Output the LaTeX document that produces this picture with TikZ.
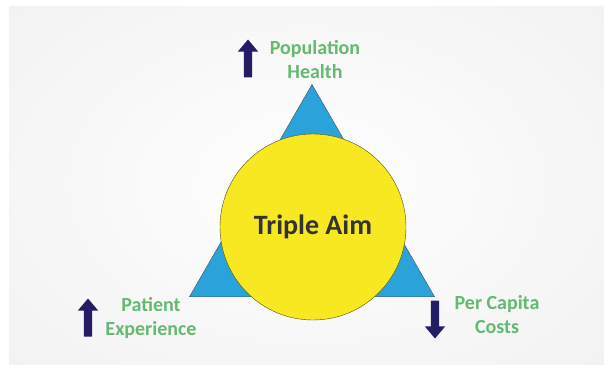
\documentclass[tikz,border=0pt]{standalone}
\usepackage{fontspec}
\setmainfont{Carlito}
\usetikzlibrary{shapes.geometric,shapes.arrows}
\definecolor{aimyellow}{RGB}{248,232,34}
\definecolor{aimblue}{RGB}{41,163,218}
\definecolor{aimgreen}{RGB}{100,186,112}
\definecolor{aimnavy}{RGB}{36,28,100}
\tikzset{%
  label/.style  = {align=center, text=aimgreen,%
                   font=\bfseries\fontsize{20}{24}\selectfont},%
  trend/.style  = {single arrow, fill=aimnavy, draw=none,%
                   minimum height=38pt, inner xsep=0pt, inner ysep=4pt,%
                   single arrow head extend=6pt, single arrow tip angle=80},%
  corner/.style = {regular polygon, regular polygon sides=3,%
                   minimum size=283pt, inner sep=0pt,%
                   fill=aimblue, draw=black!70, thin},%
  hub/.style    = {circle, minimum size=186pt, inner sep=0pt,%
                   fill=aimyellow, draw=black!65!aimyellow, thin,%
                   text=black!80, font=\bfseries\fontsize{28}{34}\selectfont}%
}

\begin{document}
\begin{tikzpicture}[x=1pt,y=-1pt]
		\useasboundingbox (0,0) rectangle (604,364);
		% soft grey frame
		\fill[white] (0,0) rectangle (604,364);
		\begin{scope}
			\clip (9,6) rectangle (604,364);
			\shade[inner color=white, outer color=black!8] (306,185) ellipse (640 and 420);
		\end{scope}
		% triangle behind the circle
		\node[corner] (tri) at (312,226) {};
		\node[hub] (aim) at (313,227) {Triple Aim};
		% the three aims
		\node[label] (pop) at (315,60) {Population\\Health};
		\node[label] (pat) at (151,318) {Patient\\Experience};
		\node[label] (cost) at (497,315) {Per Capita\\Costs};
		\node[trend, rotate=90] (popup) at (248,61) {};
		\node[trend, rotate=90] (patup) at (88,320) {};
		\node[trend, rotate=-90] (costdown) at (435,317) {};
	\end{tikzpicture}
\end{document}
